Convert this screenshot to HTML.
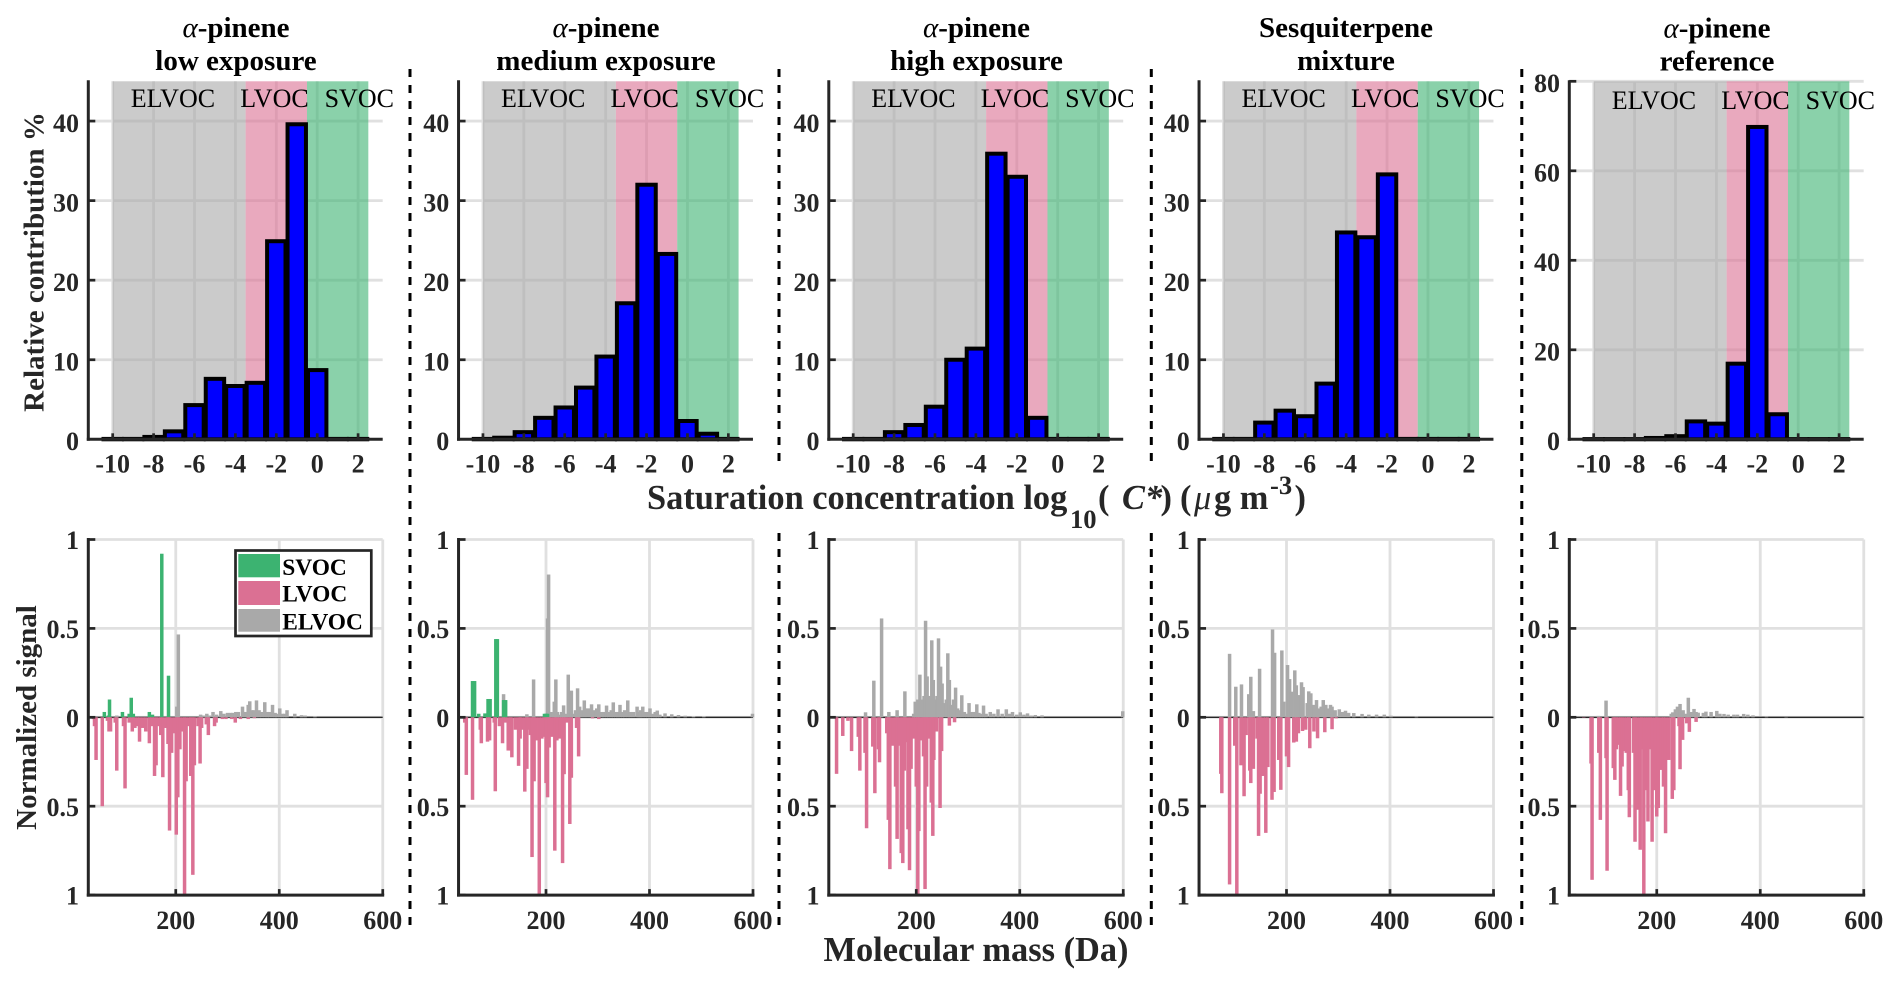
<!DOCTYPE html>
<html lang="en">
<head>
<meta charset="utf-8">
<title>Volatility distributions and mass spectra</title>
<style>
html,body{margin:0;padding:0;background:#fff}
svg{display:block;font-family:"Liberation Serif","Times New Roman",serif}
.title{font-size:29px;font-weight:700;text-anchor:middle;fill:#000}
.axis-title{font-weight:700;fill:#262626}
.divider{stroke:#000;stroke-width:3;stroke-dasharray:8 8}
.legend-text{font-size:23.4px;font-weight:700;fill:#000}
</style>
</head>
<body>
<svg id="chart" xmlns="http://www.w3.org/2000/svg" width="1900" height="985" viewBox="0 0 1900 985">
  <g id="panels"></g>

  <g>
    <text class="title" x="236" y="36.8"><tspan font-style="italic" font-weight="400">α</tspan>-pinene</text>
    <text class="title" x="236" y="69.8">low exposure</text>
    <text class="title" x="606" y="36.8"><tspan font-style="italic" font-weight="400">α</tspan>-pinene</text>
    <text class="title" x="606" y="69.8">medium exposure</text>
    <text class="title" x="976.5" y="36.8"><tspan font-style="italic" font-weight="400">α</tspan>-pinene</text>
    <text class="title" x="976.5" y="69.8">high exposure</text>
    <text class="title" x="1346" y="36.8">Sesquiterpene</text>
    <text class="title" x="1346" y="69.8">mixture</text>
    <text class="title" x="1717" y="37.5"><tspan font-style="italic" font-weight="400">α</tspan>-pinene</text>
    <text class="title" x="1717" y="70.5">reference</text>
  </g>

  <g>
    <line class="divider" x1="410" x2="410" y1="69" y2="926"/>
    <line class="divider" x1="779" x2="779" y1="69" y2="464"/>
    <line class="divider" x1="779" x2="779" y1="533" y2="926"/>
    <line class="divider" x1="1151.3" x2="1151.3" y1="69" y2="464"/>
    <line class="divider" x1="1151.3" x2="1151.3" y1="533" y2="926"/>
    <line class="divider" x1="1521.8" x2="1521.8" y1="69" y2="926"/>
  </g>

  <text class="axis-title" font-size="29" text-anchor="middle" transform="translate(43.5 262) rotate(-90)">Relative contribution %</text>
  <text class="axis-title" font-size="29" text-anchor="middle" transform="translate(36 717.5) rotate(-90)">Normalized signal</text>
  <text class="axis-title" font-size="34.4" x="647" y="509">Saturation concentration log<tspan font-size="26.6" x="1070" dy="19">10</tspan><tspan x="1098" dy="-19">(</tspan><tspan x="1122" font-style="italic">C*</tspan><tspan x="1160.5">)</tspan><tspan x="1180">(</tspan><tspan x="1194" font-style="italic" font-weight="400">μ</tspan><tspan x="1214">g m</tspan><tspan font-size="26.6" x="1270" dy="-15">-3</tspan><tspan x="1294.5" dy="15">)</tspan></text>
  <text class="axis-title" font-size="34.4" text-anchor="middle" x="976" y="961">Molecular mass (Da)</text>

  <g>
    <rect x="235.5" y="550.5" width="135.8" height="85.5" fill="#fff" stroke="#262626" stroke-width="2.7"/>
    <rect x="238.3" y="554" width="41.7" height="23.3" fill="#3cb371"/>
    <rect x="238.3" y="581" width="41.7" height="24" fill="#db7093"/>
    <rect x="238.3" y="609" width="41.7" height="22.7" fill="#a9a9a9"/>
    <text class="legend-text" x="282.3" y="575">SVOC</text>
    <text class="legend-text" x="282.3" y="601.7">LVOC</text>
    <text class="legend-text" x="282.3" y="629.3">ELVOC</text>
  </g>
</svg>

<script>
// ---------- volatility histogram data (relative contribution %) ----------
const volatilityBins = [-10,-9,-8,-7,-6,-5,-4,-3,-2,-1,0,1,2];
const contributionLow = [0.05,0.05,0.3,1,4.3,7.6,6.7,7.1,24.9,39.6,8.7,0.05,0.05];
const contributionMedium = [0.05,0.2,0.9,2.7,4,6.5,10.4,17.1,32,23.3,2.3,0.7,0.05];
const contributionHigh = [0.05,0.05,0.9,1.8,4.1,10,11.4,35.9,33,2.7,0.05,0.05,0.05];
const contributionSesquiterpene = [0.05,0.05,2.1,3.6,2.9,7,26,25.4,33.3,0.05,0.05,0.05,0.05];
const contributionReference = [0.05,0.05,0.05,0.3,0.7,4,3.5,16.9,69.8,5.6,0.05,0.05,0.05];

const topXTicks = [-10,-8,-6,-4,-2,0,2];
const topXTickLabels = ["-10","-8","-6","-4","-2","0","2"];
const topYTicks45 = [0,10,20,30,40];
const topYTicks80 = [0,20,40,60,80];
const volatilityClassNames = ["ELVOC","LVOC","SVOC"];
const volatilityClassStart = [-10,-3.5,-0.5];
const volatilityClassEnd = [-3.5,-0.5,2.5];

// ---------- mass spectra data ----------
const massTicks = [200,400,600];
const signalTicks = [1,0.5,0,-0.5,-1];
const signalTickLabels = ["1","0.5","0","0.5","1"];

const p1SvocMass = [62,70,72,97,110,114,118,149,155,173,186];
const p1SvocSignal = [0.03,0.01,0.10,0.03,0.02,0.11,0.02,0.03,0.015,0.92,0.234];
const p1LvocMass = [41,43,46,58,68,71,74,83,86,99,102,110,116,121,126,130,136,142,149,154,159,162,166,171,175,180,183,185,188,192,198,201,204,208,213,217,220,226,229,233,236,243,247,250,259,263,275,278,290,297,308,315,325,340,352];
const p1LvocSignal = [0.01,0.05,0.24,0.5,0.02,0.08,0.08,0.03,0.3,0.05,0.4,0.03,0.08,0.06,0.05,0.137,0.06,0.08,0.146,0.05,0.33,0.27,0.05,0.1,0.337,0.06,0.06,0.15,0.637,0.2,0.09,0.66,0.45,0.18,0.08,1.0,0.36,0.05,0.33,0.886,0.27,0.05,0.26,0.06,0.04,0.1,0.05,0.03,0.01,0.01,0.01,0.03,0.01,0.01,0.005];
const p1ElvocMass = [86,202,205,248,253,260,265,272,279,287,293,300,306,310,316,321,329,333,336,340,343,347,351,356,361,366,372,377,381,387,392,395,401,406,411,415,430,443,450,469];
const p1ElvocSignal = [0.01,0.06,0.466,0.015,0.01,0.02,0.01,0.03,0.015,0.035,0.02,0.025,0.025,0.025,0.03,0.03,0.06,0.03,0.03,0.07,0.09,0.04,0.04,0.095,0.04,0.03,0.085,0.03,0.03,0.07,0.025,0.02,0.05,0.02,0.02,0.04,0.02,0.012,0.01,0.006];

const p2SvocMass = [58,62,70,82,88,92,103,106,118,122,197,200,203];
const p2SvocSignal = [0.204,0.204,0.02,0.022,0.103,0.103,0.44,0.44,0.097,0.097,0.02,0.02,0.02];
const p2LvocMass = [43,46,58,73,75,87,91,100,102,110,116,122,127,131,134,141,147,150,153,159,163,166,170,173,177,181,187,192,196,200,203,206,212,217,221,227,232,235,240,246,249,259,263,290,302];
const p2LvocSignal = [0.03,0.324,0.464,0.07,0.146,0.137,0.13,0.03,0.416,0.05,0.146,0.03,0.187,0.187,0.225,0.07,0.273,0.12,0.07,0.418,0.29,0.07,0.1,0.786,0.36,0.13,1.0,0.12,0.11,0.37,0.45,0.17,0.11,0.75,0.13,0.12,0.82,0.32,0.03,0.6,0.34,0.06,0.22,0.006,0.01];
const p2ElvocMass = [118,163,176,203,205,210,216,219,222,226,230,234,238,243,249,253,257,261,265,268,270,274,277,281,285,288,293,298,302,308,312,317,321,326,330,335,339,343,348,352,358,363,369,376,380,383,387,392,397,401,406,411,415,420,430,443,456,469,485,505,599];
const p2ElvocSignal = [0.13,0.017,0.213,0.556,0.803,0.03,0.088,0.213,0.03,0.015,0.03,0.067,0.02,0.24,0.15,0.02,0.04,0.163,0.06,0.03,0.04,0.095,0.05,0.05,0.05,0.073,0.04,0.05,0.073,0.03,0.03,0.066,0.03,0.04,0.084,0.03,0.03,0.07,0.03,0.04,0.095,0.03,0.03,0.06,0.03,0.04,0.06,0.03,0.03,0.05,0.02,0.03,0.038,0.015,0.022,0.017,0.013,0.009,0.005,0.004,0.02];

const p3LvocMass = [43,46,58,68,75,88,91,101,104,116,120,127,129,143,146,149,155,160,163,168,171,174,177,180,184,187,190,194,200,203,205,210,214,217,220,224,229,232,234,239,246,249,264,274];
const p3LvocSignal = [0.005,0.318,0.105,0.02,0.19,0.11,0.3,0.2,0.624,0.165,0.427,0.18,0.253,0.09,0.577,0.854,0.16,0.39,0.684,0.16,0.764,0.82,0.3,0.14,0.63,0.86,0.29,0.12,0.39,1.0,0.64,0.13,0.22,0.966,0.39,0.12,0.48,0.667,0.24,0.08,0.51,0.19,0.047,0.028];
const p3ElvocMass = [102,118,133,147,163,178,195,198,203,207,212,215,218,221,223,228,230,233,237,240,243,247,250,254,258,261,264,268,272,276,280,284,288,293,298,302,306,310,314,317,321,325,330,335,343,350,358,366,374,380,386,394,401,408,415,422,430,443,599];
const p3ElvocSignal = [0.028,0.206,0.556,0.03,0.04,0.146,0.02,0.088,0.1,0.24,0.1,0.12,0.543,0.23,0.12,0.12,0.433,0.21,0.1,0.12,0.444,0.285,0.19,0.08,0.1,0.36,0.21,0.07,0.1,0.167,0.05,0.04,0.124,0.03,0.02,0.08,0.03,0.03,0.03,0.073,0.025,0.02,0.066,0.02,0.03,0.02,0.045,0.02,0.045,0.02,0.03,0.015,0.028,0.015,0.022,0.01,0.013,0.011,0.034];

const p4LvocMass = [73,75,100,104,90,112,118,122,129,131,136,143,146,149,155,160,164,172,176,185,189,200,204,214,219,223,231,237,245,253,260,274,288,296];
const p4LvocSignal = [0.318,0.427,0.16,1.0,0.94,0.27,0.444,0.1,0.3,0.37,0.29,0.12,0.667,0.43,0.33,0.65,0.28,0.464,0.42,0.24,0.408,0.22,0.28,0.142,0.137,0.09,0.077,0.07,0.174,0.08,0.118,0.084,0.067,0.006];
const p4ElvocMass = [90,102,113,127,131,136,148,173,177,191,195,202,206,210,216,219,225,229,232,240,243,247,253,258,262,267,271,276,281,285,288,294,302,308,314,320,330,346,359,374,389,402,451];
const p4ElvocSignal = [0.357,0.172,0.185,0.13,0.228,0.035,0.273,0.494,0.363,0.376,0.088,0.294,0.215,0.144,0.264,0.18,0.125,0.197,0.17,0.08,0.146,0.135,0.07,0.097,0.05,0.06,0.097,0.07,0.05,0.07,0.06,0.04,0.045,0.03,0.037,0.025,0.024,0.019,0.015,0.015,0.015,0.009,0.003];

const p5LvocMass = [59,73,75,88,91,102,104,116,119,122,126,130,133,137,141,145,147,155,158,162,168,171,175,179,183,187,191,197,200,203,209,213,217,223,230,233,243,245,250,258,263,276];
const p5LvocSignal = [0.002,0.26,0.914,0.2,0.577,0.23,0.863,0.286,0.352,0.18,0.155,0.442,0.277,0.19,0.2,0.41,0.562,0.2,0.70,0.52,0.745,0.18,1.0,0.41,0.586,0.18,0.70,0.41,0.558,0.51,0.296,0.39,0.652,0.24,0.459,0.41,0.05,0.292,0.127,0.034,0.082,0.026];
const p5ElvocMass = [87,102,228,231,236,240,245,251,256,261,267,272,276,280,290,295,305,316,322,330,338,349,356,368,376,386,412,450];
const p5ElvocSignal = [0.008,0.094,0.02,0.028,0.045,0.06,0.075,0.04,0.02,0.11,0.03,0.047,0.03,0.026,0.025,0.032,0.03,0.036,0.02,0.019,0.015,0.015,0.015,0.019,0.015,0.011,0.003,0.002];

// ---------- panel definitions ----------
const panelNames = ["low","medium","high","sesquiterpene","reference"];
const contributionSeries = [contributionLow,contributionMedium,contributionHigh,contributionSesquiterpene,contributionReference];
const topYMaxima = [45,45,45,45,80];
const spectra = [
  {svocM:p1SvocMass,svocS:p1SvocSignal,lvocM:p1LvocMass,lvocS:p1LvocSignal,elvocM:p1ElvocMass,elvocS:p1ElvocSignal},
  {svocM:p2SvocMass,svocS:p2SvocSignal,lvocM:p2LvocMass,lvocS:p2LvocSignal,elvocM:p2ElvocMass,elvocS:p2ElvocSignal},
  {svocM:[],svocS:[],lvocM:p3LvocMass,lvocS:p3LvocSignal,elvocM:p3ElvocMass,elvocS:p3ElvocSignal},
  {svocM:[],svocS:[],lvocM:p4LvocMass,lvocS:p4LvocSignal,elvocM:p4ElvocMass,elvocS:p4ElvocSignal},
  {svocM:[],svocS:[],lvocM:p5LvocMass,lvocS:p5LvocSignal,elvocM:p5ElvocMass,elvocS:p5ElvocSignal}
];

// ---------- layout and axis functions ----------
const SVG_NS = "http://www.w3.org/2000/svg";
const AXIS_COLOR = "#262626";
const GRID_COLOR = "#e0e0e0";
const panelLeft = i => 88.3 + i * 370.25;
const PANEL_WIDTH = 294.4;
const TOP_BOTTOM = 439.3, TOP_HEIGHT = 358;
const BOTTOM_ZERO = 717.3, BOTTOM_UNIT = 177.8;
const xVolatility = (v, i) => panelLeft(i) + 24.4 + (v + 10) * 20.45;
const yContribution = (v, max) => TOP_BOTTOM - v / max * TOP_HEIGHT;
const xMass = (m, i) => panelLeft(i) + (m - 31) * 0.5175;
const ySignal = s => BOTTOM_ZERO - s * BOTTOM_UNIT;

function mk(tag, attrs, parent) {
  const el = document.createElementNS(SVG_NS, tag);
  for (const k in attrs) el.setAttribute(k, attrs[k]);
  parent.appendChild(el);
  return el;
}
function line(x1, y1, x2, y2, color, w, parent, name) {
  const el = mk("line", {x1, y1, x2, y2, stroke: color, "stroke-width": w}, parent);
  
  
  return el;
}
function label(str, x, y, anchor, parent, name) {
  const el = mk("text", {x, y, "text-anchor": anchor, "font-size": 26, "font-weight": 700, fill: AXIS_COLOR}, parent);
  el.textContent = str;
  
  
  return el;
}

const bandColors = ["#a9a9a9", "#db7093", "#3cb371"];
const classLabelOffsets = [42.5, 152, 236.3];

function drawTopPanel(root, i) {
  const g = mk("g", {}, root);
  
  
  const left = panelLeft(i), right = left + PANEL_WIDTH, max = topYMaxima[i];
  const yTicks = max === 80 ? topYTicks80 : topYTicks45;
  const top = yContribution(max, max);

  yTicks.filter(t => t > 0).forEach(t => {
    line(left, yContribution(t, max), right, yContribution(t, max), GRID_COLOR, 2.8, g, 'y-grid-' + t);
  });
  topXTicks.forEach(t => {
    line(xVolatility(t, i), top, xVolatility(t, i), TOP_BOTTOM, GRID_COLOR, 2.8, g, 'x-grid-' + t);
  });

  volatilityClassNames.forEach((cls, c) => {
    const x0 = xVolatility(volatilityClassStart[c], i), x1 = xVolatility(volatilityClassEnd[c], i);
    const band = mk("rect", {x: x0, y: top, width: x1 - x0, height: TOP_BOTTOM - top, fill: bandColors[c], "fill-opacity": 0.6}, g);
    
    
  });

  const series = contributionSeries[i];
  volatilityBins.forEach((bin, b) => {
    const y = yContribution(series[b], max);
    const x0 = xVolatility(bin - 0.45, i), x1 = xVolatility(bin + 0.45, i);
    const bar = mk("rect", {x: x0, y: y, width: x1 - x0, height: TOP_BOTTOM - y, fill: "#0000ff", stroke: "#000", "stroke-width": 4}, g);
    
    
  });

  volatilityClassNames.forEach((cls, c) => {
    const t = mk("text", {x: left + classLabelOffsets[c], y: i === 4 ? 109 : 107, "font-size": 26, fill: "#000"}, g);
    t.textContent = cls;
    
    
  });

  line(left, top - 1, left, TOP_BOTTOM + 1.5, AXIS_COLOR, 3, g, 'y-axis-line');
  line(left - 1.5, TOP_BOTTOM, right, TOP_BOTTOM, AXIS_COLOR, 3, g, 'x-axis-line');
  yTicks.forEach(t => {
    const y = yContribution(t, max);
    if (t > 0) line(left, y, left + 7, y, AXIS_COLOR, 2.7, g, 'y-tick-' + t);
    label(String(t), left - 9.3, y + 10.7, "end", g, 'y-tick-label-' + t);
  });
  topXTicks.forEach((t, k) => {
    const x = xVolatility(t, i);
    line(x, TOP_BOTTOM, x, TOP_BOTTOM - 6, AXIS_COLOR, 2.7, g, 'x-tick-' + t);
    label(topXTickLabels[k], x, TOP_BOTTOM + 33, "middle", g, 'x-tick-label-' + t);
  });
}

function drawSticks(g, i, masses, signals, sign, color, cls) {
  masses.forEach((m, k) => {
    const h = signals[k] * BOTTOM_UNIT;
    const y = sign > 0 ? BOTTOM_ZERO - h : BOTTOM_ZERO;
    const stick = mk("rect", {x: xMass(m, i) - 1.75, y: y, width: 3.5, height: h, fill: color}, g);
    
    
  });
}

function drawBottomPanel(root, i) {
  const g = mk("g", {}, root);
  
  
  const left = panelLeft(i), right = left + PANEL_WIDTH;
  const top = ySignal(1), bottom = ySignal(-1);

  signalTicks.forEach((t, k) => {
    line(left, ySignal(t), right, ySignal(t), GRID_COLOR, 2.8, g, 'signal-grid-' + k);
  });
  massTicks.forEach(t => {
    line(xMass(t, i), top, xMass(t, i), bottom, GRID_COLOR, 2.8, g, 'mass-grid-' + t);
  });
  line(left, BOTTOM_ZERO, right, BOTTOM_ZERO, AXIS_COLOR, 1.3, g, 'zero-line');

  const d = spectra[i];
  drawSticks(g, i, d.elvocM, d.elvocS, 1, "#a9a9a9", "elvoc");
  drawSticks(g, i, d.svocM, d.svocS, 1, "#3cb371", "svoc");
  drawSticks(g, i, d.lvocM, d.lvocS, -1, "#db7093", "lvoc");

  line(left, top - 1.5, left, bottom + 1.5, AXIS_COLOR, 3, g, 'signal-axis-line');
  line(left - 1.5, bottom, right + 1.5, bottom, AXIS_COLOR, 3, g, 'mass-axis-line');
  signalTicks.forEach((t, k) => {
    const y = ySignal(t);
    line(left, y, left + 7, y, AXIS_COLOR, 2.7, g, 'signal-tick-' + k);
    label(signalTickLabels[k], left - 9.3, y + 9.6, "end", g, 'signal-tick-label-' + k);
  });
  massTicks.forEach(t => {
    const x = xMass(t, i);
    line(x, bottom, x, bottom - 6, AXIS_COLOR, 2.7, g, 'mass-tick-' + t);
    label(String(t), x, bottom + 34, "middle", g, 'mass-tick-label-' + t);
  });
}

const panelsRoot = document.getElementById("panels");
panelNames.forEach((name, i) => {
  drawTopPanel(panelsRoot, i);
  drawBottomPanel(panelsRoot, i);
});
</script>
</body>
</html>
